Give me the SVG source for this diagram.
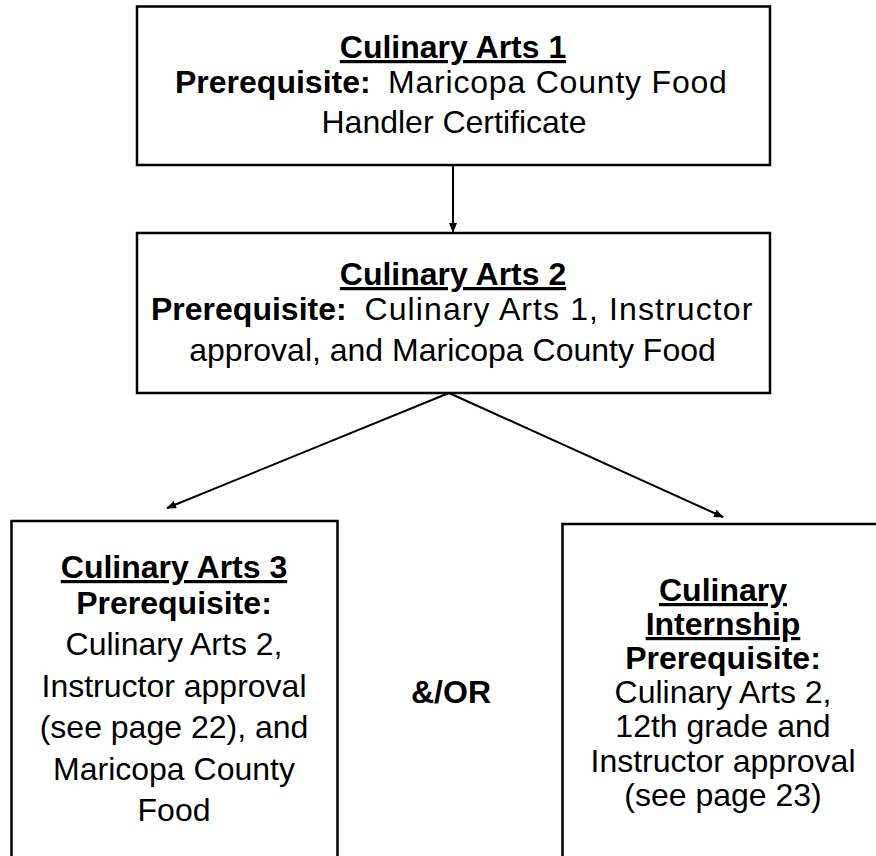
<svg xmlns="http://www.w3.org/2000/svg" width="876" height="856" viewBox="0 0 876 856">
<style>
.box{fill:#fff;stroke:#000;stroke-width:2.5}
.t{font-family:"Liberation Sans",Arial,sans-serif;font-size:32px;fill:#000}
.b{font-weight:bold}
.u{text-decoration:underline}
.c{text-anchor:middle}
.conn{stroke:#000;stroke-width:2;fill:none}
</style>
<defs>
<marker id="ah" markerWidth="10" markerHeight="8" refX="9" refY="4" orient="auto" markerUnits="userSpaceOnUse">
<path d="M0,0 L10,4 L0,8 Z" fill="#000"/>
</marker>
</defs>
<rect width="876" height="856" fill="#fff"/>
<g id="connectors">
<line class="conn" x1="453" y1="165" x2="453" y2="232" marker-end="url(#ah)"/>
<line class="conn" x1="449" y1="393" x2="167" y2="508" marker-end="url(#ah)"/>
<line class="conn" x1="449" y1="393" x2="723" y2="517" marker-end="url(#ah)"/>
</g>
<g id="node-ca1">
<rect class="box" x="137" y="6.5" width="633" height="158.5"/>
<text class="t b u c" x="453" y="58">Culinary Arts 1</text>
<text class="t" y="93"><tspan class="b" x="175">Prerequisite:</tspan><tspan x="388" letter-spacing="0.8">Maricopa County Food</tspan></text>
<text class="t c" x="454" y="133">Handler Certificate</text>
</g>
<g id="node-ca2">
<rect class="box" x="137" y="233" width="633" height="160"/>
<text class="t b u c" x="453" y="285">Culinary Arts 2</text>
<text class="t" y="320"><tspan class="b" x="151">Prerequisite:</tspan><tspan x="364.5" letter-spacing="1.1">Culinary Arts 1, Instructor</tspan></text>
<text class="t c" x="452.5" y="361">approval, and Maricopa County Food</text>
</g>
<g id="node-ca3">
<rect class="box" x="11.5" y="521" width="326" height="345"/>
<text class="t b u c" x="174" y="578">Culinary Arts 3</text>
<text class="t b c" x="174" y="614">Prerequisite:</text>
<text class="t c" x="174" y="655">Culinary Arts 2,</text>
<text class="t c" x="174" y="697">Instructor approval</text>
<text class="t c" x="174" y="738">(see page 22), and</text>
<text class="t c" x="174" y="780">Maricopa County</text>
<text class="t c" x="174" y="821">Food</text>
</g>
<g id="node-andor">
<text class="t b c" x="451" y="703">&amp;/OR</text>
</g>
<g id="node-internship">
<rect class="box" x="562.5" y="524" width="321" height="342"/>
<text class="t b u c" x="723" y="601">Culinary</text>
<text class="t b u c" x="723" y="635">Internship</text>
<text class="t b c" x="723" y="669">Prerequisite:</text>
<text class="t c" x="723" y="703">Culinary Arts 2,</text>
<text class="t c" x="723" y="737">12th grade and</text>
<text class="t c" x="723" y="772">Instructor approval</text>
<text class="t c" x="723" y="806">(see page 23)</text>
</g>
</svg>
